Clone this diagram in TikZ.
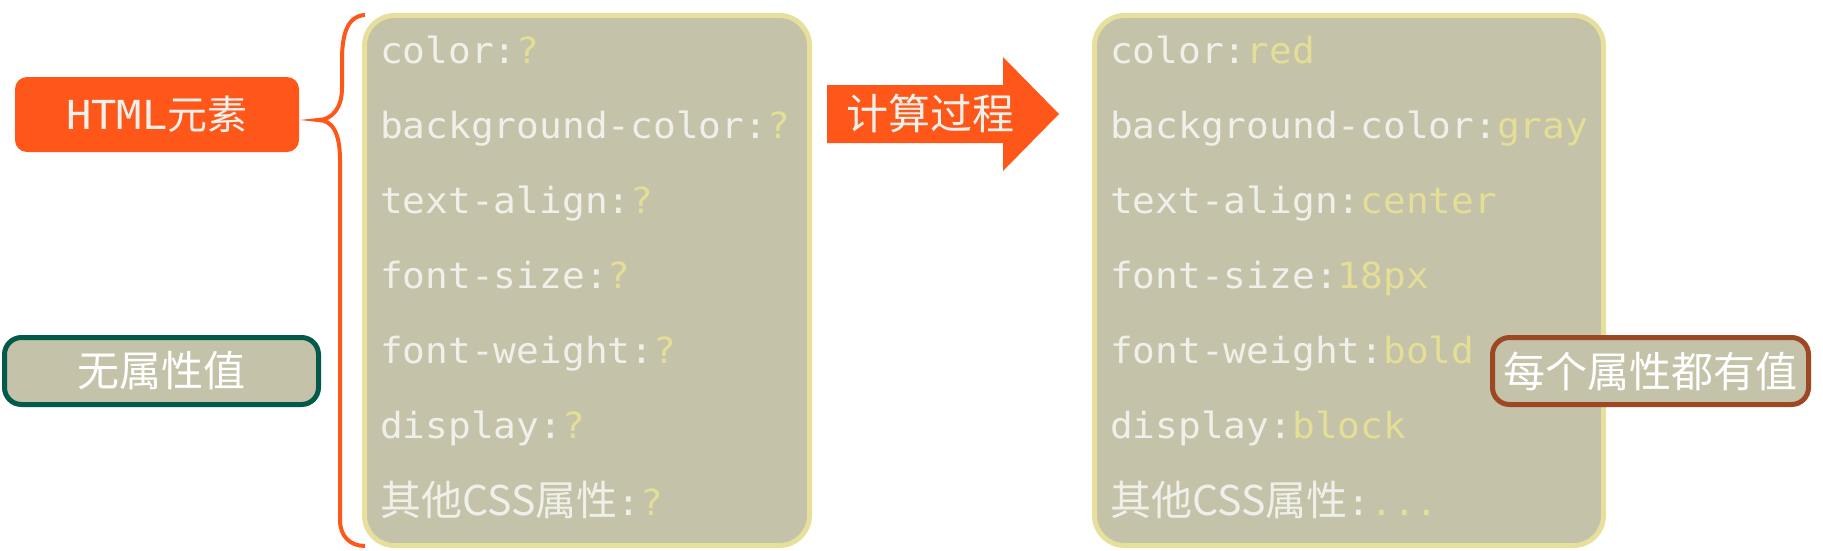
\documentclass[tikz,border=0pt]{standalone}
\usepackage{fontspec}
\setmonofont[FakeStretch=1.05]{DejaVu Sans Mono}
\newfontfamily\cjk{Noto Sans CJK SC}
\definecolor{panelfill}{HTML}{C4C2A8}
\definecolor{panelline}{HTML}{E6E09C}
\definecolor{valcol}{HTML}{E4DE96}
\definecolor{keycol}{HTML}{F0F0EA}
\definecolor{hot}{HTML}{FF5619}
\definecolor{deep}{HTML}{035A4B}
\definecolor{rust}{HTML}{9C4824}
\newcommand{\val}[1]{\textcolor{valcol}{#1}}
\tikzset{
  panel/.style={draw=panelline,fill=panelfill,line width=5pt,rounded corners=30pt},
  tag/.style={fill=panelfill,line width=5pt,rounded corners=17pt,text=white,
    font=\cjk\fontsize{42}{46}\selectfont,minimum height=67pt},
  prop/.style={anchor=base west,inner sep=0pt,text=keycol,
    font=\ttfamily\fontsize{36}{40}\selectfont}
}
\begin{document}
\begin{tikzpicture}[x=1pt,y=-1pt]
\useasboundingbox (0,0) rectangle (1823,550);
\node[fill=hot,rounded corners=12pt,minimum width=284pt,minimum height=75pt,text=keycol,
  font=\fontsize{40}{44}\selectfont] (elem) at (157,114.5) {\ttfamily HTML\cjk 元素};
\node[tag,draw=deep,minimum width=314pt] (none) at (161.5,371) {无属性值};
\draw[hot,line width=4pt] (365,15) .. controls (347,16) and (342,35) .. (342,60) -- (342,88)
  .. controls (342,108) and (332,120) .. (318,120) .. controls (332,120) and (340,132) .. (340,160)
  -- (340,520) .. controls (340,536) and (350,546) .. (365,546);
\node[panel,minimum width=445pt,minimum height=530pt] (before) at (587,280.5) {};
\node[prop] (b1) at (380,63) {color:\val{?}};
\node[prop] (b2) at (380,138) {background-color:\val{?}};
\node[prop] (b3) at (380,213) {text-align:\val{?}};
\node[prop] (b4) at (380,288) {font-size:\val{?}};
\node[prop] (b5) at (380,363) {font-weight:\val{?}};
\node[prop] (b6) at (380,438) {display:\val{?}};
\node[prop] (b7) at (380,515) {{\cjk\fontsize{41}{44}\selectfont 其他CSS属性}:\val{?}};
\fill[hot] (827,85) -- (1003,85) -- (1003,57) -- (1059,114) -- (1003,171) -- (1003,143) -- (827,143) -- cycle;
\node[text=keycol,font=\cjk\fontsize{42}{46}\selectfont] (calc) at (930,113) {计算过程};
\node[panel,minimum width=509pt,minimum height=530pt] (after) at (1349,280.5) {};
\node[prop] (a1) at (1110,63) {color:\val{red}};
\node[prop] (a2) at (1110,138) {background-color:\val{gray}};
\node[prop] (a3) at (1110,213) {text-align:\val{center}};
\node[prop] (a4) at (1110,288) {font-size:\val{18px}};
\node[prop] (a5) at (1110,363) {font-weight:\val{bold}};
\node[prop] (a6) at (1110,438) {display:\val{block}};
\node[prop] (a7) at (1110,515) {{\cjk\fontsize{41}{44}\selectfont 其他CSS属性}:\val{...}};
\node[tag,draw=rust,minimum width=316pt] (every) at (1650.5,371) {每个属性都有值};
\end{tikzpicture}
\end{document}
